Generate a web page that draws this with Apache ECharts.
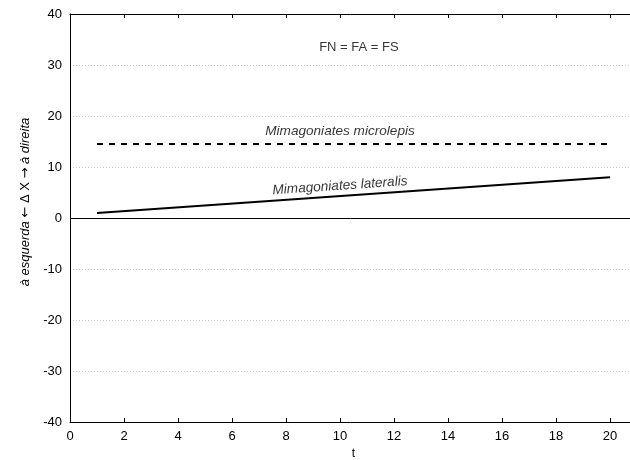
<!DOCTYPE html>
<html><head><meta charset="utf-8">
<script src="https://cdn.jsdelivr.net/npm/echarts@6/dist/echarts.min.js"></script>
<style>html,body{margin:0;padding:0;background:#fff}#c{width:630px;height:460px}</style>
</head><body><div id="c"></div>
<script>
const tLateralis = [1, 20];
const vLateralis = [1, 8];
const tMicrolepis = [1, 20];
const vMicrolepis = [14.5, 14.5];
const xTicks = [0, 2, 4, 6, 8, 10, 12, 14, 16, 18, 20];
const yTicks = [-40, -30, -20, -10, 0, 10, 20, 30, 40];
const labelTexts = ['Mimagoniates microlepis', 'Mimagoniates lateralis', 'FN = FA = FS'];
const labelPos = [[10, 17], [10, 6.3], [10.7, 33.5]];

const F = 'Liberation Sans, Arial, sans-serif';
const chart = echarts.init(document.getElementById('c'));
chart.setOption({
  animation: false,
  grid: {left: 70, right: -7, top: 14, bottom: 38, containLabel: false, outerBoundsMode: 'none'},
  xAxis: [{
    type: 'value', min: 0, max: 21, interval: 2,
    name: 't', nameLocation: 'middle', nameGap: 24,
    nameTextStyle: {color: '#000', fontFamily: F, fontSize: 12},
    axisLine: {onZero: false, lineStyle: {color: '#000', width: 1}},
    axisTick: {inside: true, length: 4, lineStyle: {color: '#000'}},
    axisLabel: {color: '#000', fontFamily: F, fontSize: 13, margin: 8,
      formatter: v => xTicks.includes(v) ? String(v) : ''},
    splitLine: {show: false}
  }, {
    type: 'value', position: 'top', min: 0, max: 21, interval: 2,
    axisLine: {onZero: false, lineStyle: {color: '#000', width: 1}},
    axisTick: {inside: true, length: 4, lineStyle: {color: '#000'}},
    axisLabel: {show: false}, splitLine: {show: false}
  }],
  yAxis: {
    type: 'value', min: -40, max: 40, interval: 10,
    name: '{i|à esquerda} {a|←} Δ X {a|→} {i|à direita}',
    nameLocation: 'middle', nameGap: 36, nameRotate: 90,
    nameTextStyle: {color: '#000', fontFamily: F, fontSize: 13, padding: [0, 0, 0, 32],
      rich: {i: {fontStyle: 'italic', fontFamily: F, fontSize: 13, color: '#000'},
             a: {fontFamily: 'DejaVu Sans', fontSize: 13, color: '#000'}}},
    axisLine: {onZero: false, lineStyle: {color: '#000', width: 1}},
    axisTick: {show: false},
    axisLabel: {color: '#000', fontFamily: F, fontSize: 13, margin: 8,
      formatter: v => yTicks.includes(v) ? String(v) : ''},
    splitLine: {show: true, lineStyle: {color: '#c8c8c8', type: [1, 2], width: 1}}
  },
  series: [{
    type: 'line', data: tLateralis.map((t, i) => [t, vLateralis[i]]),
    symbol: 'none', lineStyle: {color: '#000', width: 2},
    markLine: {silent: true, symbol: 'none', label: {show: false},
      lineStyle: {color: '#000', width: 1, type: 'solid'}, data: [{yAxis: 0}]}
  }, {
    type: 'line', data: tMicrolepis.map((t, i) => [t, vMicrolepis[i]]),
    symbol: 'none', lineStyle: {color: '#000', width: 2, type: [6, 6]}
  }, {
    type: 'scatter', symbolSize: 0,
    data: labelPos.map((p, i) => ({value: p, name: labelTexts[i],
      label: {rotate: i === 1 ? 4 : 0, fontStyle: i === 2 ? 'normal' : 'italic',
        fontSize: i === 2 ? 13 : 13.6}})),
    label: {show: true, position: 'inside', formatter: p => p.name,
      color: '#000', fontFamily: F, fontSize: 13}
  }]
});
</script></body></html>
